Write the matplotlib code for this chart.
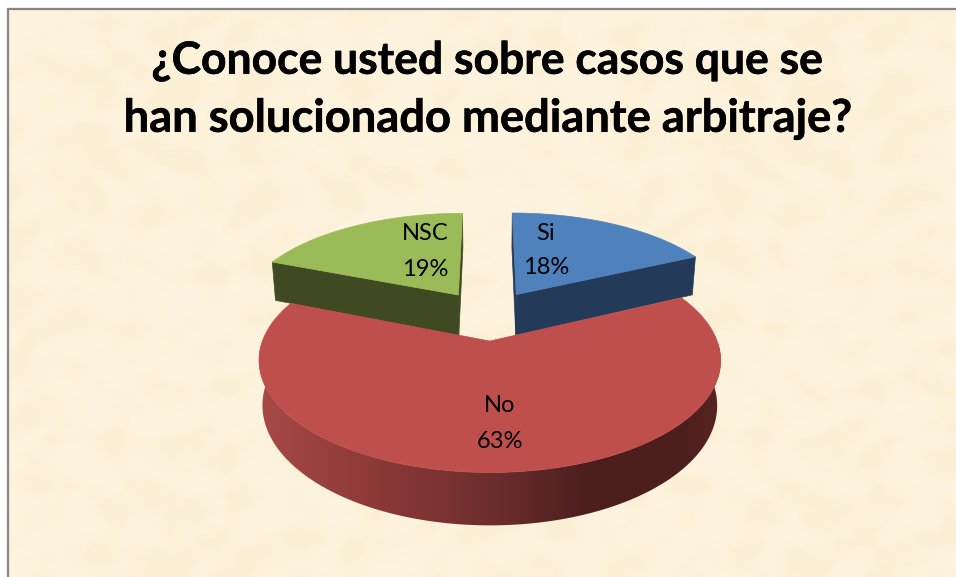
# plot.py
import numpy as np
import matplotlib
matplotlib.use("Agg")
import matplotlib.pyplot as plt
import matplotlib.patheffects as pe
from matplotlib.colors import LinearSegmentedColormap
from matplotlib.patches import Polygon

W, H = 956, 577

title_lines = ["¿Conoce usted sobre casos que se", "han solucionado mediante arbitraje?"]
labels = ["Si", "No", "NSC"]
values = [18, 63, 19]
top_colors = ["#4F81BD", "#BE4F4C", "#9BBB59"]
wall_colors = ["#233A58", "#4C1E1E", "#3F4A22"]

# pie geometry, fitted by eye (pixels)
CX, CY = 488, 315
A, B = 218, 100
K = 0.165
EXPLODE = 0.25
DEPTH = 42
SHRINK = 0.985
RADIUS = [1.015, 1.0, 1.015]  # the two back slices look a touch wider


def project(px, py):
    s = 1 / (1 + K * py)
    return CX + A * px * s, CY - B * py * s, s


def top_pts(t, mid, r):
    # t is clockwise from 12 o'clock
    wx = EXPLODE * np.sin(mid) + r * np.sin(t)
    wy = EXPLODE * np.cos(mid) + r * np.cos(t)
    return project(wx, wy)


def apex(mid):
    return project(EXPLODE * np.sin(mid), EXPLODE * np.cos(mid))


def lower(x, y, s):
    return CX + (x - CX) * SHRINK, y + DEPTH * s


fig = plt.figure(figsize=(W / 100, H / 100), dpi=100, facecolor="white")
ax = fig.add_axes([0, 0, 1, 1])

# parchment background, soft blotches
gx, gy = np.meshgrid(np.arange(0, 120), np.arange(0, 72))
mottle = (np.sin(gx * 0.31 + np.sin(gy * 0.47) * 2.1) * np.sin(gy * 0.37 + np.sin(gx * 0.23) * 2.7)
          + 0.5 * np.sin(gx * 1.13 + np.sin(gy * 0.71) * 3.1) * np.sin(gy * 0.89 + np.sin(gx * 0.59) * 1.7))
paper = LinearSegmentedColormap.from_list("paper", ["#FAEED2", "#FDF2DB", "#FEF4E2"])
ax.imshow(mottle, cmap=paper, extent=(9, W, H, 9), aspect="auto", interpolation="bilinear", zorder=0)
ax.plot([8.5, 8.5, W], [H, 9, 9], color="#868686", lw=1.6, zorder=1, solid_joinstyle="miter")

cum = np.cumsum([0] + values) / sum(values) * 2 * np.pi
order = [0, 2, 1]  # No goes last, it sits in front

for i in order:
    t0, t1 = cum[i], cum[i + 1]
    mid = (t0 + t1) / 2
    tt = np.linspace(t0, t1, 200)
    rx, ry, rs = top_pts(tt, mid, RADIUS[i])
    ax0, ay0, as0 = apex(mid)
    lx, ly = lower(rx, ry, rs)
    alx, aly = lower(ax0, ay0, as0)

    if i == 1:
        # outer wall of the big slice, shaded from left to right
        vis = (tt > np.pi / 2) & (tt < 3 * np.pi / 2)
        poly = np.column_stack([np.r_[rx[vis], lx[vis][::-1]], np.r_[ry[vis], ly[vis][::-1]]])
        clip = Polygon(poly, closed=True, transform=ax.transData, fc="none", ec="none")
        ax.add_patch(clip)
        wall_cmap = LinearSegmentedColormap.from_list(
            "wall", [(0, "#A84A48"), (0.25, "#8C3A38"), (0.5, "#6E2E2E"),
                     (0.72, "#4C1E1E"), (0.92, "#4C1E1E"), (1, "#5A2522")])
        im = ax.imshow(np.linspace(0, 1, 256)[None, :], cmap=wall_cmap, aspect="auto",
                       extent=(255, 722, 530, 300), zorder=3)
        im.set_clip_path(clip)
    else:
        # cut faces of the slices pulled away to the back
        for k in (0, -1):
            face = [(ax0, ay0), (rx[k], ry[k]), (lx[k], ly[k]), (alx, aly)]
            ax.add_patch(Polygon(face, closed=True, fc=wall_colors[i], ec=wall_colors[i],
                                 lw=0.5, zorder=2))

    surface = np.column_stack([np.r_[ax0, rx], np.r_[ay0, ry]])
    ax.add_patch(Polygon(surface, closed=True, fc=top_colors[i], ec=top_colors[i], lw=0.5,
                         zorder=4 if i == 1 else 2.5))

heavier = [pe.withStroke(linewidth=0.4, foreground="black")]
for line, yy, size in zip(title_lines, [61, 119], [32, 32.6]):
    ax.text(487.5, yy, line, ha="center", va="center", fontsize=size, fontweight="bold",
            family="Lato", color="black", zorder=6, path_effects=heavier)

label_xy = [(546, 233), (500, 406), (425, 234)]
pct_y = [267, 441, 269]
for i, lab in enumerate(labels):
    ax.text(label_xy[i][0], label_xy[i][1], lab, ha="center", va="center", fontsize=17,
            family="Lato", color="black", zorder=6)
    ax.text(label_xy[i][0], pct_y[i], f"{values[i]}%", ha="center", va="center", fontsize=17,
            family="Lato", color="black", zorder=6)

ax.set_xlim(0, W)
ax.set_ylim(H, 0)
ax.axis("off")

fig.savefig("out.png", dpi=100, facecolor="white")
plt.close(fig)
